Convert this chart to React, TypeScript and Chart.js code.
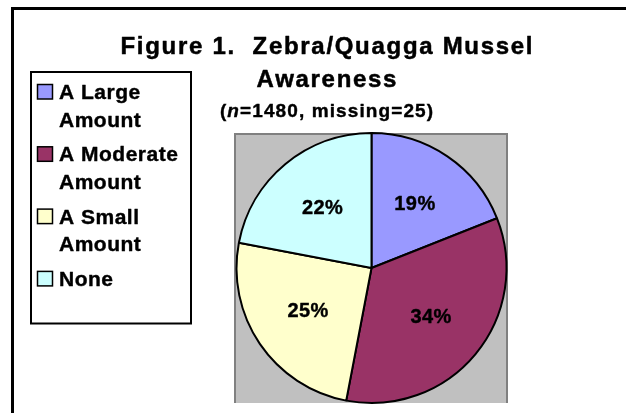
import { useEffect, useRef } from "react";
import { Chart, registerables } from "chart.js";

Chart.register(...registerables);

const categories = ["A Large Amount", "A Moderate Amount", "A Small Amount", "None"];
const percentages = [19, 34, 25, 22];
const sliceColors = ["#9999FF", "#993366", "#FFFFCC", "#CCFFFF"];
const titleLines = ["Figure 1.  Zebra/Quagga Mussel", "Awareness"];
const sampleSize = 1480;
const missingCount = 25;

const FONT = '"Liberation Sans", Arial, Helvetica, sans-serif';

function spacedWidth(ctx: CanvasRenderingContext2D, text: string, spacing: number) {
  (ctx as any).letterSpacing = "0px";
  const w = ctx.measureText(text).width;
  return w + spacing * Math.max(text.length - 1, 0);
}

function drawSpaced(ctx: CanvasRenderingContext2D, text: string, x: number, y: number, spacing: number, heavy = 0.35) {
  (ctx as any).letterSpacing = spacing + "px";
  ctx.textAlign = "left";
  ctx.fillText(text, x, y);
  if (heavy > 0) {
    ctx.save();
    ctx.lineWidth = heavy;
    ctx.strokeStyle = ctx.fillStyle as string;
    ctx.lineJoin = "round";
    ctx.strokeText(text, x, y);
    ctx.restore();
  }
  (ctx as any).letterSpacing = "0px";
}

function wrapWords(ctx: CanvasRenderingContext2D, text: string, maxWidth: number, spacing: number) {
  const words = text.split(" ");
  const lines: string[] = [];
  let cur = "";
  for (const w of words) {
    const test = cur ? cur + " " + w : w;
    if (cur && spacedWidth(ctx, test, spacing) > maxWidth) {
      lines.push(cur);
      cur = w;
    } else {
      cur = test;
    }
  }
  if (cur) lines.push(cur);
  return lines;
}

const backdropPlugin = {
  id: "backdrop",
  beforeDraw(chart: any) {
    const ctx: CanvasRenderingContext2D = chart.ctx;
    const w = chart.width;
    const h = chart.height;
    ctx.save();
    ctx.fillStyle = "#FFFFFF";
    ctx.fillRect(0, 0, w, h);

    // outer frame
    ctx.fillStyle = "#000000";
    ctx.fillRect(11, 7, w - 11, 3);
    ctx.fillRect(11, 7, 3, h - 7);

    // plot area
    ctx.fillStyle = "#C0C0C0";
    ctx.fillRect(234, 133, 274, 270);
    ctx.fillStyle = "#808080";
    ctx.fillRect(234, 133, 2, 270);
    ctx.fillRect(234, 133, 274, 2);
    ctx.fillRect(506, 133, 2, 270);

    // title
    ctx.fillStyle = "#000000";
    ctx.textBaseline = "alphabetic";
    ctx.font = `bold 24px ${FONT}`;
    const titleCx = 326.5;
    const titleBase = [54, 87];
    const tSp = 1.7;
    titleLines.forEach((line, i) => {
      const tw = spacedWidth(ctx, line, tSp);
      drawSpaced(ctx, line, titleCx - tw / 2, titleBase[i], tSp, 0.5);
    });

    // subtitle with italic n
    const sSp = 1.1;
    const parts = [
      { t: "(", it: false },
      { t: "n", it: true },
      { t: `=${sampleSize}, missing=${missingCount})`, it: false },
    ];
    const setF = (it: boolean) => (ctx.font = `${it ? "italic " : ""}bold 19px ${FONT}`);
    let total = 0;
    parts.forEach((p) => {
      setF(p.it);
      total += spacedWidth(ctx, p.t, sSp) + sSp;
    });
    total -= sSp;
    let sx = titleCx - total / 2;
    parts.forEach((p) => {
      setF(p.it);
      drawSpaced(ctx, p.t, sx, 117, sSp, 0.4);
      sx += spacedWidth(ctx, p.t, sSp) + sSp;
    });

    // legend
    ctx.strokeStyle = "#000000";
    ctx.lineWidth = 2;
    ctx.strokeRect(31, 72, 160, 251.5);
    ctx.font = `bold 21px ${FONT}`;
    const lSp = 0.5;
    const labels: string[] = chart.data.labels;
    const colors: string[] = chart.data.datasets[0].backgroundColor;
    labels.forEach((lab, i) => {
      const base = 99 + i * 62.3;
      ctx.fillStyle = colors[i];
      ctx.fillRect(37.5, base - 14.5, 15, 14.5);
      ctx.lineWidth = 1.5;
      ctx.strokeStyle = "#000000";
      ctx.strokeRect(37.5, base - 14.5, 15, 14.5);
      ctx.fillStyle = "#000000";
      const lines = wrapWords(ctx, lab, 128, lSp);
      lines.forEach((ln, j) => {
        drawSpaced(ctx, ln, 59, base + j * 27.6, lSp, 0.4);
      });
    });
    ctx.restore();
  },
};

const sliceLabelPlugin = {
  id: "sliceLabels",
  afterDatasetsDraw(chart: any) {
    const ctx: CanvasRenderingContext2D = chart.ctx;
    const meta = chart.getDatasetMeta(0);
    const data: number[] = chart.data.datasets[0].data;
    ctx.save();
    ctx.font = `bold 20px ${FONT}`;
    ctx.fillStyle = "#000000";
    ctx.textBaseline = "middle";
    meta.data.forEach((arc: any, i: number) => {
      const p = arc.getProps(["x", "y", "startAngle", "endAngle", "outerRadius"], true);
      const mid = (p.startAngle + p.endAngle) / 2;
      const r = p.outerRadius * 0.57;
      const px = p.x + Math.cos(mid) * r;
      const py = p.y + Math.sin(mid) * r;
      const text = `${data[i]}%`;
      const tw = spacedWidth(ctx, text, 0.4);
      drawSpaced(ctx, text, px - tw / 2, py, 0.4, 0.4);
    });
    ctx.restore();
  },
};

export default function App() {
  const ref = useRef<HTMLCanvasElement | null>(null);
  useEffect(() => {
    if (!ref.current) return;
    const chart = new Chart(ref.current, {
      type: "pie",
      data: {
        labels: categories,
        datasets: [
          {
            data: percentages,
            backgroundColor: sliceColors,
            borderColor: "#000000",
            borderWidth: 2,
          },
        ],
      },
      options: {
        animation: false,
        responsive: false,
        devicePixelRatio: 1,
        layout: { padding: { left: 235.5, top: 132, right: 118.5, bottom: 9 } },
        plugins: {
          legend: { display: false },
          title: { display: false },
          tooltip: { enabled: false },
        },
        events: [],
      },
      plugins: [backdropPlugin, sliceLabelPlugin],
    });
    return () => chart.destroy();
  }, []);
  return (
    <div style={{ position: "fixed", left: 0, top: 0, width: 626, height: 413, background: "#fff" }}>
      <canvas ref={ref} width={626} height={413} style={{ width: 626, height: 413, display: "block" }} />
    </div>
  );
}
